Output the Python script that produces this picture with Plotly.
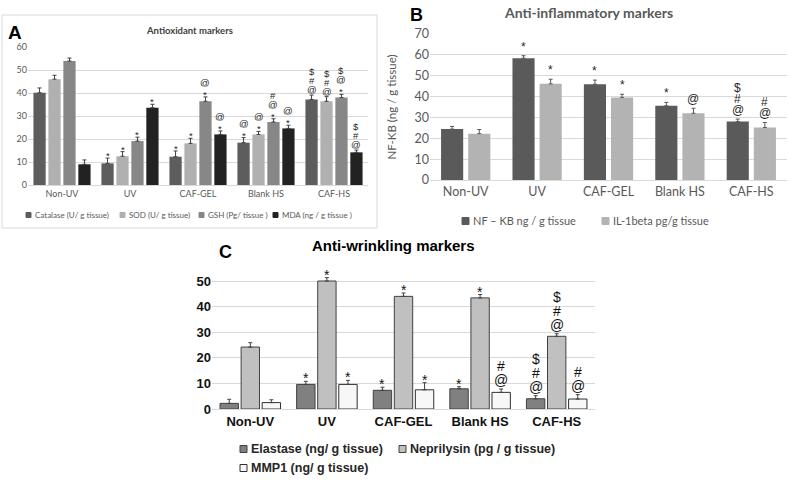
import plotly.graph_objects as go

W, H = 788, 482
def PX(x): return x / W
def PY(y): return 1 - y / H

groups = ["Non-UV", "UV", "CAF-GEL", "Blank HS", "CAF-HS"]

# ---------------- Panel A: Antioxidant markers ----------------
a_names = ["Catalase (U/ g tissue)", "SOD (U/ g tissue)", "GSH (Pg/ tissue )", "MDA (ng / g tissue )"]
catalase = [40.1, 9.4, 12.3, 18.4, 37.2]
catalase_err = [2.1, 2.3, 2.5, 2.2, 1.9]
sod = [46.0, 12.5, 18.1, 22.0, 36.4]
sod_err = [1.7, 2.0, 2.2, 1.3, 2.0]
gsh = [53.9, 19.1, 36.4, 27.4, 38.0]
gsh_err = [1.3, 1.7, 1.9, 1.4, 1.4]
mda = [9.0, 33.6, 22.0, 24.6, 14.2]
mda_err = [1.9, 1.5, 1.5, 1.4, 1.0]
# significance marks, listed bottom -> top
catalase_sig = ["", "*", "*", "*@", "@#$"]
sod_sig = ["", "*", "*", "*@", "@#$"]
gsh_sig = ["", "*", "*@", "*@#", "*@$"]
mda_sig = ["", "*", "*@", "*@", "@#$"]
a_ticks = [0, 10, 20, 30, 40, 50, 60]

# ---------------- Panel B: Anti-inflammatory markers ----------------
b_names = ["NF \u2013 KB ng / g tissue", "IL-1beta pg/g tissue"]
nfkb = [24.4, 58.4, 45.9, 35.6, 28.0]
nfkb_err = [1.3, 1.2, 2.0, 1.6, 1.2]
il1b = [22.2, 46.1, 39.6, 32.0, 25.2]
il1b_err = [2.0, 2.2, 1.5, 2.4, 2.4]
nfkb_sig = ["", "*", "*", "*", "@#$"]
il1b_sig = ["", "*", "*", "@", "@#"]
b_ticks = [0, 10, 20, 30, 40, 50, 60, 70]

# ---------------- Panel C: Anti-wrinkling markers ----------------
c_names = ["Elastase (ng/ g tissue)", "Neprilysin (pg / g tissue)", "MMP1 (ng/ g tissue)"]
elastase = [2.2, 9.6, 7.3, 7.9, 4.0]
elastase_err = [1.6, 1.2, 1.2, 0.8, 1.2]
neprilysin = [24.2, 50.0, 44.0, 43.4, 28.4]
neprilysin_err = [1.7, 1.3, 1.3, 1.3, 1.0]
mmp1 = [2.5, 9.6, 7.5, 6.5, 3.9]
mmp1_err = [1.1, 1.6, 2.8, 1.3, 1.7]
elastase_sig = ["", "*", "*", "*", "@#$"]
neprilysin_sig = ["", "*", "*", "*", "@#$"]
mmp1_sig = ["", "*", "*", "@#", "@#"]
c_ticks = [0, 10, 20, 30, 40, 50]

CAL = "Lato, 'Open Sans', sans-serif"
ARI = "'Liberation Sans', Arial, sans-serif"

fig = go.Figure()
annotations = []
shapes = []

def add_series(axn, vals, errs, sigs, name, color, width, offset, line_color, line_w,
               err_color, mark_font, base, step, star_adj):
    xa = "x" if axn == 1 else f"x{axn}"
    ya = "y" if axn == 1 else f"y{axn}"
    fig.add_trace(go.Bar(
        x=groups, y=vals, name=name, width=width, offset=offset,
        marker=dict(color=color, line=dict(color=line_color, width=line_w)),
        error_y=dict(type="data", symmetric=False, array=errs,
                     arrayminus=[0] * len(errs), color=err_color, thickness=1, width=2),
        xaxis=xa, yaxis=ya, showlegend=False, cliponaxis=False))
    for i, (v, e, s) in enumerate(zip(vals, errs, sigs)):
        for k, ch in enumerate(s):
            annotations.append(dict(
                x=i + offset + width / 2, y=v + e, xref=xa, yref=ya,
                text=ch, showarrow=False, yanchor="bottom", xanchor="center",
                yshift=base + k * step + (star_adj if ch == "*" else 0),
                font=mark_font))

# Panel A series
wa = 0.18
a_font = dict(family=ARI, size=9.5, color="#262626")
add_series(1, catalase, catalase_err, catalase_sig, a_names[0], "#5d5d5d", wa, -0.42, None, 0, "#404040", a_font, -2, 9, -3)
add_series(1, sod, sod_err, sod_sig, a_names[1], "#b0b0b0", wa, -0.20, None, 0, "#404040", a_font, -2, 9, -3)
add_series(1, gsh, gsh_err, gsh_sig, a_names[2], "#878787", wa, 0.02, None, 0, "#404040", a_font, -2, 9, -3)
add_series(1, mda, mda_err, mda_sig, a_names[3], "#222222", wa, 0.24, None, 0, "#404040", a_font, -2, 9, -3)

# Panel B series
wb = 0.31
b_font = dict(family=ARI, size=12, color="#262626")
add_series(2, nfkb, nfkb_err, nfkb_sig, b_names[0], "#5a5a5a", wb, -0.345, None, 0, "#595959", b_font, 0, 11, 0)
add_series(2, il1b, il1b_err, il1b_sig, b_names[1], "#b3b3b3", wb, 0.035, None, 0, "#595959", b_font, 0, 11, 0)

# Panel C series
wc = 0.24
c_font = dict(family=ARI, size=14, color="#111111")
add_series(3, elastase, elastase_err, elastase_sig, c_names[0], "#808080", wc, -0.395, "#404040", 1, "#404040", c_font, -1, 14, -6)
add_series(3, neprilysin, neprilysin_err, neprilysin_sig, c_names[1], "#c0c0c0", wc, -0.12, "#404040", 1, "#404040", c_font, -1, 14, -6)
add_series(3, mmp1, mmp1_err, mmp1_sig, c_names[2], "#f7f7f7", wc, 0.155, "#303030", 1, "#404040", c_font, -1, 14, -6)

# Manual legends (compact, like the original)
def legend_item(xicon, yc, size, color, text, font, line_color=None):
    shapes.append(dict(type="rect", xref="paper", yref="paper",
                       x0=PX(xicon), x1=PX(xicon + size),
                       y0=PY(yc + size / 2), y1=PY(yc - size / 2),
                       fillcolor=color,
                       line=dict(color=line_color or color, width=1)))
    annotations.append(dict(x=PX(xicon + size + 2), y=PY(yc), xref="paper", yref="paper",
                            text=text, showarrow=False, xanchor="left", yanchor="middle",
                            font=font))

la_font = dict(family=CAL, size=8, color="#595959")
legend_item(26, 215, 5, "#5d5d5d", a_names[0], la_font)
legend_item(120, 215, 5, "#b0b0b0", a_names[1], la_font)
legend_item(199, 215, 5, "#878787", a_names[2], la_font)
legend_item(273, 215, 5, "#222222", a_names[3], la_font)

lb_font = dict(family=CAL, size=11, color="#595959")
legend_item(462, 221, 7, "#5a5a5a", b_names[0], lb_font)
legend_item(602, 221, 7, "#b3b3b3", b_names[1], lb_font)

lc_font = dict(family=ARI, size=12.5, color="#262626", weight="bold")
legend_item(240, 449, 7, "#808080", c_names[0], lc_font, "#404040")
legend_item(399, 449, 7, "#c0c0c0", c_names[1], lc_font, "#404040")
legend_item(240, 468, 7, "#f7f7f7", c_names[2], lc_font, "#303030")

# Panel A frame
shapes.append(dict(type="rect", xref="paper", yref="paper", x0=PX(2), x1=PX(377),
                   y0=PY(228), y1=PY(15), line=dict(color="#d9d9d9", width=1),
                   fillcolor="rgba(0,0,0,0)", layer="below"))

# Titles and panel letters
def label(x, y, text, font):
    annotations.append(dict(x=PX(x), y=PY(y), xref="paper", yref="paper", text=text,
                            showarrow=False, xanchor="center", yanchor="middle", font=font))

label(189, 30, "<b>Antioxidant markers</b>", dict(family=CAL, size=9.5, color="#404040"))
label(15, 33, "<b>A</b>", dict(family=ARI, size=19, color="#000000"))
label(588, 12, "<b>Anti-inflammatory markers</b>", dict(family=CAL, size=14, color="#595959"))
label(416, 15, "<b>B</b>", dict(family=ARI, size=18, color="#000000"))
label(393, 246, "<b>Anti-wrinkling markers</b>", dict(family=ARI, size=15, color="#000000"))
label(225, 252, "<b>C</b>", dict(family=ARI, size=18, color="#000000"))

grid = "#d9d9d9"
common_x = dict(type="category", range=[-0.5, 4.5], showline=True, linecolor=grid,
                linewidth=1, ticks="", showgrid=False, zeroline=False, fixedrange=True,
                automargin=False)
common_y = dict(showgrid=True, gridcolor=grid, gridwidth=1, zeroline=False,
                showline=False, ticks="", fixedrange=True, automargin=False)

# panel C: axis runs slightly past 50 so the top error bar shows; 50 stays at y=281px
c_top = 53
c_top_px = 409 - (409 - 281) * c_top / 50

fig.update_layout(
    width=W, height=H, margin=dict(l=0, r=0, t=0, b=0, autoexpand=False),
    paper_bgcolor="white", plot_bgcolor="white",
    barmode="overlay", showlegend=False,
    xaxis=dict(domain=[PX(28), PX(368)], anchor="y",
               tickfont=dict(family=CAL, size=9, color="#595959"), **common_x),
    yaxis=dict(domain=[PY(185), PY(47)], anchor="x", range=[0, 60], tickvals=a_ticks,
               tickfont=dict(family=CAL, size=9, color="#595959"), **common_y),
    xaxis2=dict(domain=[PX(430), PX(787)], anchor="y2",
                tickfont=dict(family=CAL, size=12.5, color="#595959"), **common_x),
    yaxis2=dict(domain=[PY(180), PY(34)], anchor="x2", range=[0, 70], tickvals=b_ticks,
                tickfont=dict(family=CAL, size=12.5, color="#595959"),
                title=dict(text="NF-KB (ng / g tissue)",
                           font=dict(family=CAL, size=11.5, color="#595959")),
                **common_y),
    xaxis3=dict(domain=[PX(212), PX(595)], anchor="y3",
                tickfont=dict(family=ARI, size=13, color="#111111", weight="bold"), **common_x),
    yaxis3=dict(domain=[PY(409), PY(c_top_px)], anchor="x3", range=[0, c_top], tickvals=c_ticks,
                tickfont=dict(family=ARI, size=13, color="#111111", weight="bold"), **common_y),
    annotations=annotations, shapes=shapes,
)

fig.write_html("out.html", config={"displayModeBar": False},
               post_script="document.body.style.margin='0';document.body.style.overflow='hidden';")
